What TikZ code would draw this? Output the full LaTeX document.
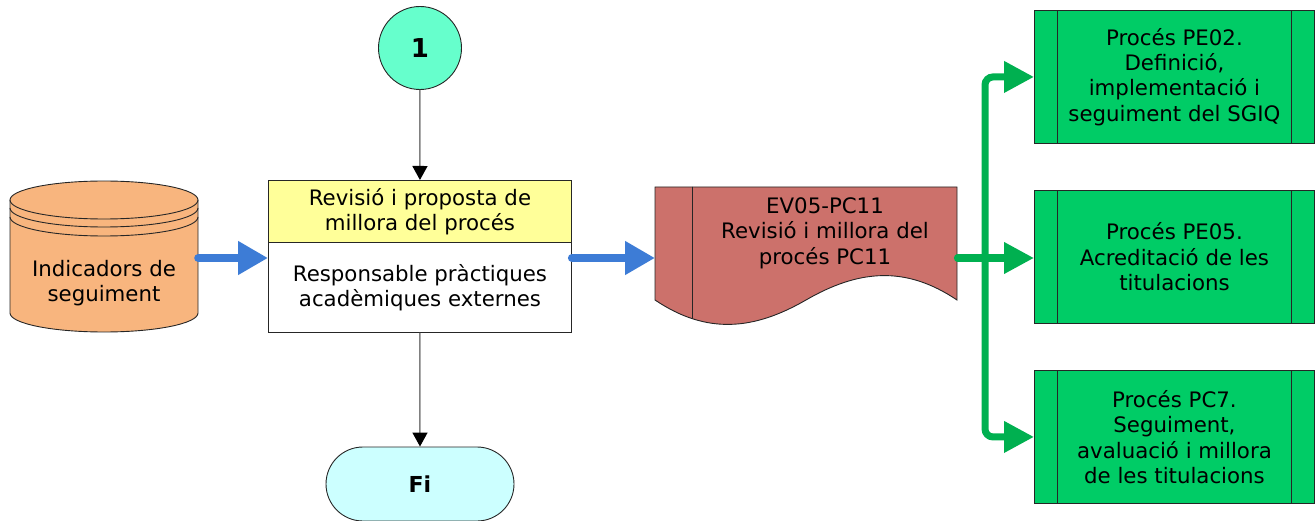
\documentclass[tikz,border=0pt]{standalone}
\usepackage{fontspec}
\setmainfont{DejaVu Sans}
\usetikzlibrary{arrows.meta,shapes.misc,calc}
\definecolor{cylfill}{HTML}{F8B57E}
\definecolor{docfill}{HTML}{CC716B}
\definecolor{gbox}{HTML}{00CC66}
\definecolor{garr}{HTML}{00B050}
\definecolor{cone}{HTML}{66FFCC}
\definecolor{cfi}{HTML}{CCFFFF}
\definecolor{cyel}{HTML}{FFFF99}
\definecolor{barr}{HTML}{3D7CD6}
\tikzset{
  lbl/.style={font=\fontsize{21.3}{25.5}\selectfont, align=center, inner sep=0pt},
  boldlbl/.style={font=\fontsize{22}{26}\selectfont\bfseries, align=center, inner sep=0pt},
  outline/.style={draw=black!85, line width=0.9pt},
  flowarrow/.style={draw=gray, line width=1.5pt, -{Triangle[length=14pt,width=15pt,color=black]}},
  bluearrow/.style={draw=barr, line width=8pt, line cap=round, -{Triangle[length=30pt,width=32pt]}},
  greenarrow/.style={draw=garr, line width=7pt, line cap=round, -{Triangle[length=30pt,width=30pt]}},
  subproc/.style={lbl, outline, fill=gbox, minimum width=280pt, minimum height=133pt, anchor=north west,
    path picture={
      \draw[line width=0.9pt] ([xshift=23pt]path picture bounding box.north west) -- ([xshift=23pt]path picture bounding box.south west);
      \draw[line width=0.9pt] ([xshift=-23pt]path picture bounding box.north east) -- ([xshift=-23pt]path picture bounding box.south east);
    }},
}
\begin{document}
\begin{tikzpicture}[x=1pt,y=-1pt]
\useasboundingbox (0,0) rectangle (1316,521);

% connector 1
\node[boldlbl, circle, outline, fill=cone, minimum size=83pt, font=\fontsize{26}{30}\selectfont\bfseries] (one) at (420,48) {1};

% process box
\node[lbl, outline, fill=cyel, minimum width=303pt, minimum height=62pt, anchor=north west] (revt) at (268,180) {Revisió i proposta de\\millora del procés};
\node[lbl, outline, fill=white, minimum width=303pt, minimum height=90pt, anchor=north west] (revb) at (268,242) {Responsable pràctiques\\acadèmiques externes};

% terminal
\node[boldlbl, rounded rectangle, outline, fill=cfi, minimum width=188pt, minimum height=74pt] (fi) at (420,484) {Fi};

% cylinder
\path[outline, fill=cylfill] (10,200) -- (10,313) arc[start angle=180, end angle=0, x radius=94, y radius=19] -- (198,200) arc[start angle=0, end angle=-180, x radius=94, y radius=19] -- cycle;
\draw[outline] (10,200) arc[start angle=180, end angle=0, x radius=94, y radius=19];
\draw[outline] (10,208) arc[start angle=180, end angle=0, x radius=94, y radius=19];
\draw[outline] (10,217) arc[start angle=180, end angle=0, x radius=94, y radius=19];
\node[lbl, minimum width=188pt, minimum height=156pt] (ind) at (104,258) {};
\node[lbl] (indtext) at (104,283) {Indicadors de\\seguiment};

% document
\path[outline, fill=docfill] (655,187) -- (957,187) -- (957,300)
  .. controls (905,265) and (858,270) .. (806,300)
  .. controls (754,330) and (707,335) .. (655,300) -- cycle;
\begin{scope}
\clip (655,187) -- (957,187) -- (957,300)
  .. controls (905,265) and (858,270) .. (806,300)
  .. controls (754,330) and (707,335) .. (655,300) -- cycle;
\draw[outline] (692,180) -- (692,340);
\end{scope}
\node[lbl, minimum width=302pt, minimum height=142pt, anchor=west] (doc) at (655,258) {};
\node[lbl] (doctext) at (825,233) {EV05-PC11\\Revisió i millora del\\procés PC11};

% green subprocess boxes
\node[subproc] (pe02) at (1034,10) {Procés PE02.\\Definició,\\implementació i\\seguiment del SGIQ};
\node[subproc] (pe05) at (1034,190) {Procés PE05.\\Acreditació de les\\titulacions};
\node[subproc] (pc7) at (1034,370) {Procés PC7.\\Seguiment,\\avaluació i millora\\de les titulacions};

% arrows
\draw[flowarrow] (one) -- (revt);
\draw[flowarrow] (revb) -- (fi);
\draw[bluearrow] (ind.east) -- (ind.east -| revb.west);
\draw[bluearrow] (ind.east -| revb.east) -- (doc.west);
\coordinate (bus) at (985,258);
\draw[greenarrow] (doc.east) -- (doc.east -| pe05.west);
\draw[greenarrow, rounded corners=8pt, line cap=butt] (bus) |- (pe02.west);
\draw[greenarrow, rounded corners=8pt, line cap=butt] (bus) |- (pc7.west);
\end{tikzpicture}
\end{document}
